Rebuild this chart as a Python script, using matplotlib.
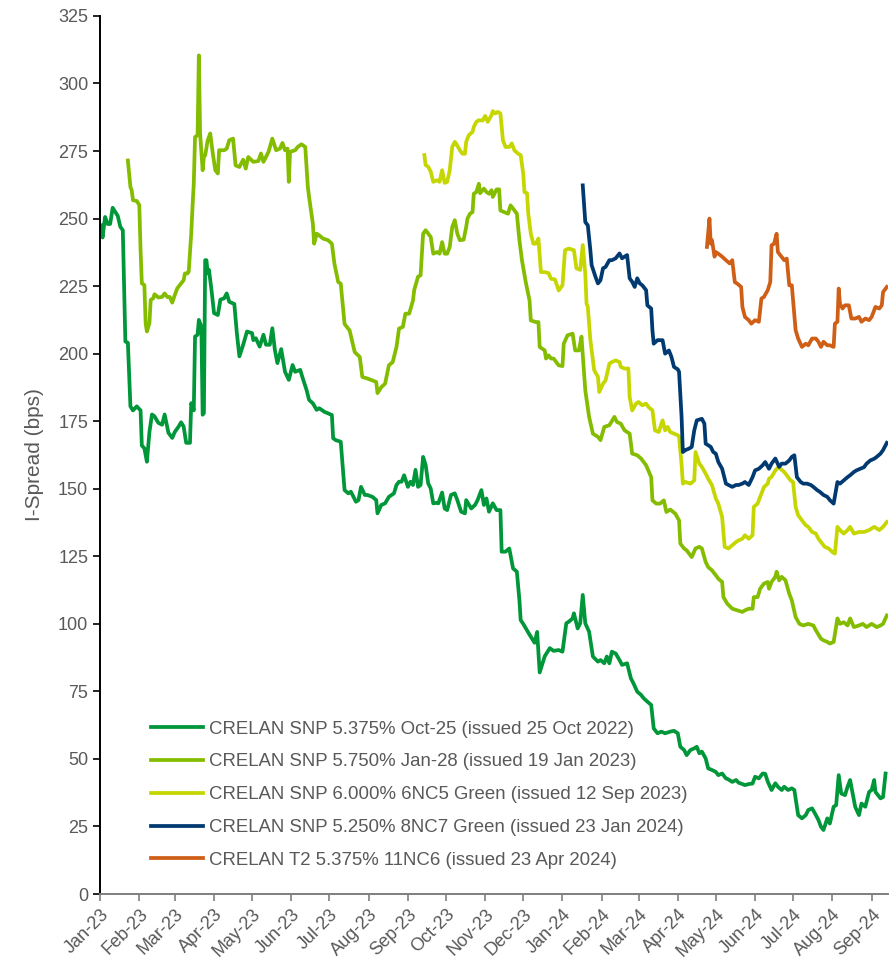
import matplotlib
matplotlib.use("Agg")
import matplotlib.pyplot as plt
import matplotlib.dates as mdates
import pandas as pd

plt.rcParams['font.family'] = ['Liberation Sans', 'DejaVu Sans']

start = pd.Timestamp('2023-01-01')

# days since 1 Jan 2023, I-spread in bps
s1_day = [1, 2, 4, 6, 8, 10, 12, 14, 16, 18, 20, 22, 24, 26, 29, 32, 33, 35, 37, 39, 41, 43, 46, 49, 51, 54, 57,
          59, 62, 64, 66, 68, 71, 72, 74, 75, 77, 78, 80, 81, 82, 83, 84, 85, 86, 88, 90, 93, 95, 98, 100, 102,
          106, 108, 110, 113, 116, 120, 121, 123, 126, 129, 131, 134, 136, 138, 140, 143, 146, 149, 152, 154,
          158, 160, 163, 165, 168, 171, 173, 177, 180, 183, 184, 186, 190, 193, 196, 198, 202, 204, 206, 209,
          211, 215, 218, 219, 222, 225, 228, 232, 234, 236, 238, 240, 243, 245, 247, 249, 251, 253, 255, 257,
          259, 261, 263, 266, 267, 270, 272, 274, 277, 280, 282, 285, 288, 289, 293, 296, 298, 301, 303, 305,
          307, 310, 313, 316, 317, 320, 323, 326, 329, 331, 332, 334, 339, 343, 345, 347, 351, 355, 358, 362,
          365, 368, 370, 373, 374, 377, 379, 381, 383, 386, 389, 393, 395, 398, 400, 402, 404, 407, 410, 412,
          416, 419, 421, 424, 427, 429, 432, 435, 437, 440, 443, 446, 450, 453, 456, 458, 461, 463, 466, 469,
          471, 473, 475, 478, 480, 483, 486, 488, 491, 494, 496, 499, 502, 504, 507, 509, 512, 515, 517, 520,
          523, 525, 527, 530, 533, 535, 538, 540, 543, 546, 548, 551, 554, 557, 559, 562, 565, 567, 569, 571,
          574, 576, 579, 581, 583, 585, 588, 590, 592, 594, 596, 599, 601, 604, 607, 609, 611, 612, 616, 618, 620]
s1_val = [247.5, 243, 250.6, 248, 248, 254, 252.5, 251, 247, 245.7, 204.5, 204, 180.5, 179, 180.5, 179, 166, 165,
          160, 171, 177.5, 176.8, 174.4, 173.7, 177.5, 170.7, 168.8, 171, 173, 174.6, 173, 167, 167, 181.7, 179,
          206.3, 207, 212.5, 210, 177.4, 178, 234.6, 234.6, 229.7, 231, 223.5, 215, 214.3, 220, 220.5, 222.3,
          219.2, 218.4, 207.6, 199, 203.3, 208.2, 207.6, 205, 205.7, 202.6, 207, 203.3, 203.3, 209.4, 201.4,
          196.5, 201.7, 193.3, 190.3, 195.8, 193.3, 194, 190.9, 186.6, 182.9, 181.6, 179.2, 179.8, 178.5, 177.9,
          177.3, 168.7, 168, 167.4, 149.5, 148.3, 148.9, 145.2, 145.8, 150.7, 147.7, 147.7, 147, 145.8, 140.9,
          144, 144.6, 147, 148.3, 151.4, 152.6, 152.6, 155, 150.7, 152.6, 151.4, 157, 150.7, 151.4, 161.8, 158.8,
          152, 150.1, 144.6, 144.8, 144.6, 148.6, 142.7, 142.1, 147.7, 148.3, 145.8, 141.5, 140.9, 145.8, 142.7,
          144, 145.8, 149.5, 144, 146.4, 141.5, 144.6, 142.1, 142.1, 126.7, 126.7, 127.9, 120.5, 119.3, 108.8,
          101.4, 100, 96, 93, 97, 82, 88, 91, 90, 90.3, 89.7, 100.2, 100.8, 102, 103.9, 98.3, 100.2, 110.7, 100.2,
          97.1, 87.9, 86, 86.6, 85.4, 87.9, 85.4, 89.7, 89, 86.6, 84.8, 85.4, 79.8, 78, 74.9, 73.7, 72.5, 71.2,
          70, 61.3, 59.5, 60.1, 59.5, 60.1, 60.4, 59.5, 54.5, 53.3, 51.4, 53.3, 53.9, 54.5, 52.1, 52.7, 50.2,
          46.5, 45.9, 45.2, 44, 44.6, 42.8, 42.4, 41.5, 42.2, 41.2, 40.7, 40.3, 40.7, 40.9, 43.4, 42.8, 44.6,
          44.5, 41.6, 38.5, 41, 39.7, 38.5, 39.7, 38.5, 39.1, 38.5, 29.2, 28, 29.2, 31.1, 31.7, 29.2, 27.4,
          24.9, 23.7, 28, 26.1, 32.3, 32.9, 44, 37.2, 36.6, 39.7, 42.2, 37.2, 32.3, 29.2, 33.5, 32.3, 37.8,
          38.5, 42.2, 37.8, 35.4, 35.9, 44.6]

s2_day = [22, 24, 25, 26, 29, 31, 32, 33, 35, 36, 37, 39, 40, 42, 43, 46, 49, 51, 53, 55, 57, 59, 61, 64, 66, 67,
          69, 70, 72, 73, 74, 75, 77, 78, 79, 81, 82, 83, 85, 87, 89, 91, 93, 94, 98, 100, 102, 105, 107, 110,
          113, 115, 117, 121, 125, 127, 129, 133, 136, 139, 142, 144, 146, 148, 149, 150, 154, 156, 159, 162,
          164, 165, 168, 169, 171, 173, 176, 180, 183, 185, 188, 190, 193, 197, 201, 205, 207, 211, 215, 218,
          219, 222, 225, 228, 231, 234, 236, 239, 241, 244, 247, 248, 251, 253, 255, 257, 261, 263, 266, 268,
          270, 272, 274, 276, 278, 280, 282, 284, 287, 289, 290, 292, 294, 295, 297, 299, 300, 303, 305, 307,
          309, 310, 313, 315, 316, 319, 322, 324, 326, 329, 331, 333, 336, 339, 340, 344, 346, 347, 351, 352,
          354, 356, 358, 362, 365, 366, 369, 373, 375, 378, 380, 383, 386, 389, 393, 395, 398, 402, 406, 408,
          411, 414, 418, 420, 424, 427, 431, 435, 436, 439, 442, 445, 447, 450, 454, 457, 458, 461, 463, 467,
          470, 473, 475, 478, 480, 483, 486, 488, 491, 492, 495, 499, 503, 507, 509, 512, 515, 516, 519, 521,
          524, 527, 528, 530, 533, 534, 536, 538, 541, 544, 546, 549, 552, 555, 559, 563, 565, 569, 571, 574,
          576, 579, 582, 584, 587, 590, 592, 595, 599, 602, 605, 609, 613, 616, 618, 621]
s2_val = [271.5, 261.7, 260.5, 256.8, 256.5, 255, 238.3, 226, 225.4, 211.3, 208.2, 211.3, 219.9, 220.5, 222, 220.8,
          221, 222.3, 221, 221, 218.9, 221.7, 224.2, 226, 227.2, 229.7, 229.7, 230.3, 244.5, 254.3, 263, 280.2,
          280.8, 310.4, 281.5, 267.9, 272.8, 273.4, 279, 281.5, 274.1, 267.9, 266.7, 275.3, 275.3, 275.9, 279,
          279.6, 269.7, 269.1, 271.8, 268.5, 272.8, 271, 271.3, 274.1, 271, 274.7, 279.6, 275.3, 275.9, 278,
          275.3, 275.9, 263.6, 274.7, 275.3, 276.5, 277.5, 276.5, 261.8, 258, 248.1, 240.7, 244.4, 243.8, 242.6,
          242, 240.7, 233.3, 226.5, 225.9, 211, 208.6, 200.6, 198.8, 191.4, 190.8, 190.1, 189.5, 185.4, 187.6,
          188.9, 195.7, 196.9, 202.5, 209.3, 209.9, 214.8, 214.8, 219.7, 223.6, 228.5, 229, 244.4, 245.7, 243.2,
          237, 237.6, 237, 241.3, 237, 237, 239.5, 246.9, 249.4, 244.4, 242, 242.2, 246.9, 250, 251.8, 252.4,
          259.2, 259.8, 262.9, 259.4, 261.1, 259.8, 259.2, 260.5, 258, 260.8, 260.8, 253, 252.4, 251.8, 254.9,
          253.7, 251.8, 242, 234.6, 226.5, 219.7, 212.3, 211.7, 211.7, 202.5, 201.2, 198.2, 199.4, 198.2, 198.2,
          195.7, 195.4, 203.7, 206.8, 207.4, 201.2, 201.2, 206.3, 186.4, 176.6, 170.4, 169.2, 168, 172.9, 173.5,
          176.6, 174.7, 174.1, 171.6, 170.4, 163, 162.4, 161.2, 158.7, 154.3, 145.7, 144.5, 144.5, 145.7, 141.4,
          142.3, 140.8, 138.3, 129.7, 127.9, 127.2, 124.7, 127.9, 128.5, 127.9, 122.9, 121, 119.8, 118, 116.7,
          115.5, 109.9, 107.5, 105.6, 105, 104.4, 105, 105.6, 105.6, 109.9, 109.9, 113, 114.9, 115.5, 113, 115.5,
          117.4, 119.3, 116.1, 117.4, 116.1, 111.1, 108.7, 102.5, 100, 99.4, 100, 99.4, 97.6, 94.5, 93.9, 93.3,
          92.7, 93.3, 102, 100, 100.6, 99.4, 102, 98.8, 99.4, 100, 98.8, 100, 98.8, 99.4, 100, 103.1]

s3_day = [256, 257, 259, 261, 263, 266, 268, 270, 272, 274, 276, 278, 280, 281, 284, 286, 288, 289, 291, 294, 295,
          297, 299, 302, 304, 306, 309, 310, 312, 314, 316, 318, 320, 323, 325, 327, 330, 332, 334, 335, 337,
          338, 340, 342, 344, 346, 348, 351, 354, 356, 359, 362, 365, 367, 370, 374, 376, 379, 381, 383, 384,
          385, 387, 390, 393, 394, 397, 399, 402, 404, 407, 410, 411, 414, 417, 418, 420, 423, 425, 428, 431,
          433, 436, 438, 441, 444, 446, 448, 450, 453, 456, 457, 459, 460, 462, 466, 469, 470, 473, 475, 478,
          480, 483, 486, 488, 491, 493, 496, 499, 502, 504, 507, 509, 512, 515, 516, 519, 521, 524, 527, 528,
          530, 533, 535, 537, 540, 542, 545, 547, 549, 551, 554, 557, 559, 562, 565, 567, 570, 572, 575, 578,
          580, 582, 584, 587, 590, 592, 595, 599, 603, 607, 611, 615, 618, 621]
s3_val = [273.5, 269.8, 269.2, 267.4, 263.6, 264.2, 263.6, 267.9, 263.2, 263.6, 267.9, 276.5, 278.4, 277.8, 275.3,
          274, 274, 278.4, 280.8, 282.1, 283.9, 285.8, 286.4, 286.3, 288, 285.8, 288.3, 289.8, 288.9, 289.5,
          288.9, 279, 276.5, 276.5, 277.8, 275.3, 274, 273.5, 266.7, 259.8, 259.4, 251.8, 244.4, 240.7, 240.7,
          242.6, 230.2, 230.2, 229.8, 227.7, 227.5, 223.4, 225.3, 238.3, 238.9, 238.3, 231.6, 231, 240.2, 229.6,
          218.5, 217.3, 205, 193.9, 191.4, 185.8, 188.9, 190.1, 196.3, 196.9, 197.5, 196.9, 195.1, 194.5, 194.5,
          184, 179, 181.5, 182.1, 180.9, 181.5, 180.2, 179, 171.6, 171, 175.3, 171.6, 172.9, 171, 170.4, 169.8,
          169.2, 159, 151.9, 152.5, 151.9, 153.1, 163.6, 159.3, 158.1, 155.6, 153.7, 151.3, 146.4, 144.5, 139.5,
          128.5, 127.9, 129.1, 130.3, 130.9, 131.5, 132.8, 131.5, 132.8, 143.3, 144.5, 147, 150.6, 151.9, 153.7,
          154.4, 156.8, 157.8, 157.4, 156.2, 155, 153.1, 152.5, 143.3, 140.2, 138.3, 136.5, 135.9, 134, 133.4,
          131.5, 129.7, 128.5, 127.9, 126.6, 126, 135.9, 134.7, 133.4, 134.7, 135.9, 133.4, 134, 134, 134.7,
          135.9, 134.7, 135.9, 137.7]

s4_day = [381, 383, 385, 387, 388, 391, 393, 395, 397, 399, 402, 404, 407, 410, 412, 414, 416, 418, 420, 422, 424,
          426, 428, 431, 432, 435, 436, 437, 440, 444, 446, 449, 451, 453, 456, 457, 459, 460, 462, 465, 467,
          469, 471, 475, 477, 478, 482, 484, 486, 488, 491, 494, 496, 499, 502, 504, 507, 509, 512, 515, 517,
          520, 523, 525, 528, 530, 533, 536, 538, 541, 544, 546, 548, 550, 553, 555, 558, 561, 563, 566, 568,
          571, 574, 576, 579, 582, 584, 587, 590, 592, 595, 597, 600, 603, 605, 608, 611, 613, 616, 618, 621]
s4_val = [262.3, 248.7, 247.5, 238.3, 232.8, 228.5, 226, 227.2, 231.6, 232.1, 234.6, 234.6, 235.3, 237.1, 235.3,
          235.9, 236.5, 227.9, 226.6, 224.7, 227.9, 226, 225.3, 223.5, 217.9, 216.7, 208.6, 203.7, 205, 205, 200,
          201.2, 198.8, 195.1, 194.2, 193.3, 176.6, 163.6, 164.3, 164.9, 165.5, 171.6, 175.3, 175.9, 174.1, 166.7,
          165.5, 163.6, 163, 159.9, 157.4, 151.9, 151.4, 150.7, 151.4, 151.4, 151.9, 152.5, 151.4, 154.3, 156.8,
          157.4, 158.7, 159.9, 157.4, 159.3, 161.2, 158.1, 159.3, 159.3, 160.5, 161.8, 162.4, 154.3, 152.5, 151.9,
          151.9, 151.4, 150.7, 149.5, 148.9, 147.7, 147, 145.8, 144.5, 152.5, 151.9, 153.1, 154.3, 155, 156.2,
          156.8, 157.4, 158, 159.3, 160.5, 161.1, 161.8, 163, 164.3, 167]

s5_day = [479, 481, 482, 483, 485, 486, 488, 491, 494, 497, 499, 501, 503, 506, 507, 509, 512, 514, 517, 520, 522,
          524, 527, 529, 530, 532, 534, 535, 537, 540, 542, 544, 546, 549, 551, 554, 557, 559, 562, 565, 567,
          569, 571, 574, 576, 579, 580, 582, 583, 584, 586, 588, 591, 593, 596, 599, 601, 604, 607, 609, 612,
          615, 617, 618, 621]
s5_val = [239.5, 250, 240.7, 242, 235.9, 237.6, 237, 235.9, 234.6, 233.4, 234.6, 226.5, 225.9, 224.7, 217.3, 213.6,
          212.4, 211.1, 212.4, 211.8, 220.4, 221, 223.5, 226.5, 240.1, 240.7, 244.4, 237.6, 236.4, 234.6, 235.2,
          225.3, 225.3, 208.7, 205.6, 202.5, 203.7, 203.1, 205.6, 205.6, 204.4, 202.5, 204.4, 203.1, 203.1, 202.5,
          211.1, 211.8, 224.1, 218.5, 216.7, 217.9, 217.9, 213, 213, 213.6, 211.8, 213, 212.4, 213.6, 217.3,
          216.7, 217.9, 222.8, 224.7]

labels = ['CRELAN SNP 5.375% Oct-25 (issued 25 Oct 2022)',
          'CRELAN SNP 5.750% Jan-28 (issued 19 Jan 2023)',
          'CRELAN SNP 6.000% 6NC5 Green (issued 12 Sep 2023)',
          'CRELAN SNP 5.250% 8NC7 Green (issued 23 Jan 2024)',
          'CRELAN T2 5.375% 11NC6 (issued 23 Apr 2024)']
colors = ['#00963A', '#84BD00', '#C6D600', '#003A70', '#CF5F17']

series = [(s1_day, s1_val), (s2_day, s2_val), (s3_day, s3_val), (s4_day, s4_val), (s5_day, s5_val)]

fig = plt.figure(figsize=(8.89, 9.61), dpi=100)
ax = fig.add_axes([0.1125, 0.0697, 0.8865, 0.9137])

for (d, v), lab, col in zip(series, labels, colors):
    dates = start + pd.to_timedelta(d, unit='D')
    ax.plot(dates, v, color=col, lw=2.7, label=lab, solid_joinstyle='round')

ax.set_ylim(0, 325)
ax.set_yticks(range(0, 326, 25))
ax.set_xlim(start, start + pd.Timedelta(days=622))
ax.xaxis.set_major_locator(mdates.MonthLocator())
ax.xaxis.set_major_formatter(mdates.DateFormatter('%b-%y'))

grey = '#595959'
ax.tick_params(axis='y', colors='black', labelcolor=grey, labelsize=13, length=5, width=1.2, direction='out')
ax.tick_params(axis='x', colors='#7f7f7f', labelcolor=grey, labelsize=13, length=5, width=1.2, direction='out')
for lab in ax.get_xticklabels():
    lab.set_rotation(45)
    lab.set_ha('right')
    lab.set_rotation_mode('anchor')

ax.spines['top'].set_visible(False)
ax.spines['right'].set_visible(False)
ax.spines['left'].set_color('black')
ax.spines['left'].set_linewidth(1.4)
ax.spines['bottom'].set_color('#7f7f7f')
ax.spines['bottom'].set_linewidth(1.4)

ax.set_ylabel('I-Spread (bps)', fontsize=15, color=grey, labelpad=10)

leg = ax.legend(loc='lower left', bbox_to_anchor=(0.055, 0.02), frameon=False, fontsize=13.4,
                handlelength=2.8, handletextpad=0.35, labelspacing=0.85, borderaxespad=0)
for t in leg.get_texts():
    t.set_color(grey)

fig.savefig('out.png', dpi=100)
